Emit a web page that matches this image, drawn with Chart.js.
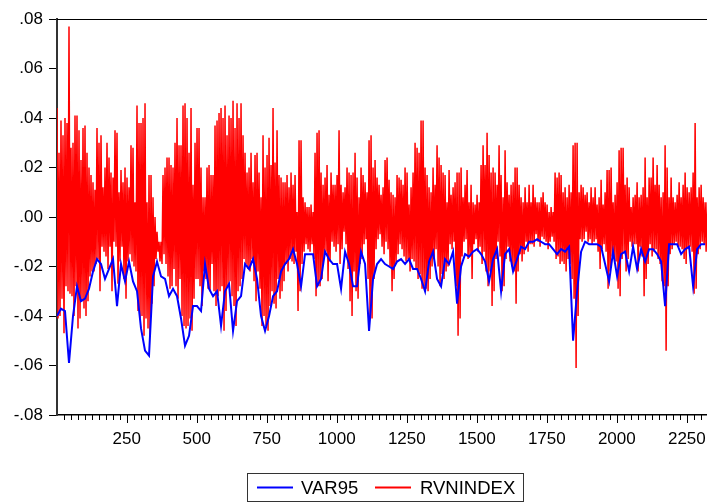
<!DOCTYPE html>
<html>
<head>
<meta charset="utf-8">
<script src="https://cdn.jsdelivr.net/npm/chart.js@4.4.1/dist/chart.umd.min.js"></script>
<style>
  html, body { margin: 0; padding: 0; background: #fff; }
</style>
</head>
<body>
<canvas id="chart" width="707" height="502"></canvas>
<script>
// series names, in legend order
const seriesNames = ['VAR95', 'RVNINDEX'];

// axis ticks
const xTickValues = [250, 500, 750, 1000, 1250, 1500, 1750, 2000, 2250];
const yTickValues = [-0.08, -0.06, -0.04, -0.02, 0, 0.02, 0.04, 0.06, 0.08];

// the picture was read every ~7 obs for RVNINDEX (local high + low) and ~14 obs for VAR95
const RED_STEP = 50 / 7;
const BLUE_STEP = 100 / 7;

// RVNINDEX local highs
const rvnPeaks = [
  .044, .026, .039, .033, .040, .038, .077, .028, .030, .041,
  .041, .035, .023, .036, .037, .026, .020, .017, .014, .011,
  .036, .030, .033, .012, .020, .030, .024, .018, .016, .035,
  .034, .010, .019, .014, .020, .016, .012, .029, .028, .006,
  .045, .038, .038, .040, .046, .006, .017, .017, .008, .000,
  -.006, -.010, -.010, .017, .020, .024, .024, .021, .020, .030,
  .040, .029, .029, .045, .046, .040,
  .026, .044, .013, .030, .036, .036, .020, .008, .008, .020,
  .021, .017, .017, .037, .039, .042, .044, .040, .045, .033,
  .041, .040, .047, .036, .046, .040, .046, .033, .026, .018,
  .020, .026, .014, .025, .026, .018, .008, .033, .020, .025,
  .032, .021, .044, .022, .035, .017, .016, .014, .014, .017,
  .012, .018, .013, .017, .002, .031, .031, .008, .006, .004,
  .004, .005, .002, .026, .034,
  .035, .018, .013, .016, .021, .009, .018, .013, .013, .017,
  .035, .013, .010, .012, .020, .018, .017, .018, .026, .016,
  .008, .020, .017, .014, .010, .031, .033, .020, .023, .016,
  .013, .009, .012, .023, .024, .015, .010, .009, .008, .017,
  .016, .015, .013, .020, .018, .005, .012, .018, .030, .028,
  .026, .039, .039, .020, .017, .012, .010, .020, .013, .029,
  .024, .021, .018, .017, .006,
  .019, .009, .012, .014, .018, .018, .020, .008, .013, .019,
  .006, .013, .006, .005, .009, .006, .021, .029, .021, .034,
  .025, .018, .020, .018, .013, .029, .017, .008, .027, .014,
  .009, .013, .014, .020, .020, .013, .008, .006, .012, .006,
  .013, .006, .013, .008, .006, .006, .008, .010, .006, .005,
  .002, .004, .002, .018, .016, .018, .017, .010, .012, .008,
  .013, .010, .029, .030, .030,
  .010, .013, .012, .009, .010, .006, .012, .008, .012, .005,
  .008, .015, .005, .010, .019, .019, .020, .006, .009, .014,
  .027, .028, .028, .013, .016, .012, .004, .008, .009, .014,
  .008, .009, .012, .024, .008, .016, .016, .024, .013, .021,
  .013, .008, .010, .029, .020, .008, .016, .008, .006, .009,
  .014, .008, .013, .018, .012, .010, .012, .018, .038, .008,
  .012, .013, .008, .006, .006
];

// RVNINDEX local lows
const rvnTroughs = [
  -.041, -.040, -.033, -.047, -.028, -.030, -.031, -.032, -.040, -.028,
  -.045, -.041, -.034, -.037, -.040, -.034, -.024, -.022, -.022, -.019,
  -.017, -.030, -.012, -.014, -.016, -.021, -.012, -.030, -.010, -.012,
  -.027, -.018, -.012, -.025, -.033, -.018, -.015, -.018, -.020, -.022,
  -.038, -.041, -.040, -.048, -.041, -.045, -.048, -.035, -.028, -.017,
  -.014, -.018, -.019, -.015, -.019, -.024, -.029, -.028, -.021, -.028,
  -.033, -.025, -.040, -.044, -.045, -.044,
  -.041, -.046, -.033, -.025, -.025, -.028, -.036, -.022, -.025, -.029,
  -.030, -.019, -.030, -.036, -.032, -.030, -.028, -.046, -.038, -.028,
  -.026, -.032, -.036, -.044, -.030, -.028, -.025, -.017, -.019, -.021,
  -.022, -.017, -.026, -.034, -.022, -.029, -.044, -.040, -.044, -.046,
  -.036, -.030, -.035, -.037, -.025, -.033, -.030, -.026, -.019, -.022,
  -.017, -.018, -.019, -.014, -.038, -.030, -.019, -.014, -.011, -.013,
  -.014, -.011, -.017, -.032, -.028,
  -.028, -.025, -.017, -.014, -.026, -.018, -.010, -.012, -.014, -.011,
  -.019, -.013, -.006, -.011, -.021, -.034, -.040, -.022, -.030, -.033,
  -.019, -.017, -.011, -.009, -.025, -.040, -.041, -.025, -.013, -.009,
  -.007, -.012, -.015, -.010, -.013, -.020, -.030, -.025, -.019, -.015,
  -.011, -.013, -.016, -.018, -.017, -.022, -.017, -.018, -.021, -.025,
  -.023, -.029, -.028, -.029, -.030, -.025, -.020, -.017, -.013, -.020,
  -.028, -.023, -.025, -.022, -.020,
  -.011, -.013, -.010, -.028, -.048, -.041, -.016, -.010, -.009, -.017,
  -.016, -.025, -.011, -.009, -.014, -.012, -.019, -.014, -.022, -.028,
  -.022, -.036, -.030, -.017, -.010, -.016, -.030, -.028, -.017, -.012,
  -.018, -.020, -.022, -.035, -.022, -.015, -.018, -.015, -.010, -.014,
  -.011, -.011, -.012, -.007, -.010, -.012, -.008, -.009, -.010, -.013,
  -.010, -.008, -.010, -.017, -.016, -.019, -.018, -.019, -.022, -.017,
  -.019, -.025, -.033, -.061, -.040,
  -.009, -.010, -.009, -.006, -.010, -.009, -.011, -.010, -.009, -.014,
  -.021, -.013, -.011, -.014, -.029, -.022, -.016, -.017, -.018, -.029,
  -.032, -.017, -.014, -.022, -.017, -.010, -.012, -.011, -.011, -.022,
  -.012, -.016, -.032, -.025, -.019, -.011, -.016, -.014, -.013, -.017,
  -.019, -.026, -.028, -.054, -.028, -.015, -.013, -.011, -.010, -.012,
  -.012, -.013, -.017, -.019, -.013, -.012, -.014, -.031, -.029, -.015,
  -.013, -.010, -.011, -.014, -.014
];

// VAR95 (blue)
const var95 = [
  -.040, -.037, -.038, -.059, -.040, -.028, -.034, -.033, -.029, -.022,
  -.017, -.019, -.025, -.021, -.017, -.036, -.019, -.026, -.018, -.026,
  -.030, -.045, -.054, -.056, -.024, -.018, -.024, -.025, -.032, -.029,
  -.032, -.041, -.052,
  -.048, -.036, -.036, -.038, -.019, -.029, -.032, -.030, -.044, -.030,
  -.027, -.046, -.034, -.032, -.019, -.021, -.017, -.025, -.040, -.046,
  -.040, -.032, -.030, -.022, -.019, -.017, -.013, -.019, -.028, -.015,
  -.015, -.015, -.028,
  -.025, -.014, -.017, -.019, -.019, -.029, -.014, -.019, -.028, -.028,
  -.014, -.019, -.046, -.025, -.019, -.017, -.019, -.020, -.021, -.018,
  -.017, -.019, -.017, -.021, -.021, -.025, -.030, -.018, -.014, -.025,
  -.028, -.017,
  -.019, -.014, -.035, -.020, -.015, -.016, -.014, -.013, -.015, -.018,
  -.026, -.017, -.013, -.030, -.015, -.013, -.022, -.017, -.012, -.013,
  -.010, -.010, -.009, -.010, -.011, -.011, -.013, -.015, -.013, -.014,
  -.012, -.050,
  -.030, -.014, -.010, -.011, -.011, -.011, -.012, -.019, -.026, -.014,
  -.024, -.015, -.014, -.022, -.012, -.021, -.013, -.018, -.013, -.013,
  -.015, -.018, -.036, -.011, -.011, -.011, -.015, -.013, -.012, -.028,
  -.013, -.011, -.011
];

const FONT = '"Liberation Sans", Arial, sans-serif';

// highs and lows alternate, half a reading step apart
const rvnPoints = [];
rvnPeaks.forEach((h, k) => {
  rvnPoints.push({ x: 1 + k * RED_STEP, y: h });
  rvnPoints.push({ x: 1 + (k + 0.5) * RED_STEP, y: rvnTroughs[k] });
});
const varPoints = var95.map((v, i) => ({ x: 1 + i * BLUE_STEP, y: v }));

// ".08", "-.02", ".00"
const fmtY = (v) => {
  if (Math.abs(v) < 1e-9) v = 0;
  return v.toFixed(2).replace(/^(-?)0\./, '$1.');
};

// top frame line, minor/major x ticks, boxed legend
const framePlugin = {
  id: 'frame',
  afterDraw(chart) {
    const { ctx, chartArea } = chart;
    const xs = chart.scales.x;
    ctx.save();
    ctx.strokeStyle = '#000';
    ctx.lineWidth = 1;
    ctx.beginPath();
    ctx.moveTo(chartArea.left, chartArea.top + 0.5);
    ctx.lineTo(chartArea.right, chartArea.top + 0.5);
    ctx.stroke();

    ctx.beginPath();
    for (let v = 25; v <= xs.max; v += 25) {
      const px = Math.round(xs.getPixelForValue(v)) + 0.5;
      const len = v % 250 === 0 ? 8 : 5;
      ctx.moveTo(px, chartArea.bottom);
      ctx.lineTo(px, chartArea.bottom + len);
    }
    ctx.stroke();

    // legend
    ctx.strokeStyle = '#333';
    ctx.strokeRect(247.5, 473.5, 276, 28);
    ctx.font = '18.5px ' + FONT;
    ctx.fillStyle = '#000';
    ctx.textBaseline = 'alphabetic';
    const slots = [{ line: 257, text: 301 }, { line: 375, text: 420 }];
    seriesNames.forEach((name, k) => {
      const ds = chart.data.datasets.find((d) => d.label === name);
      ctx.strokeStyle = ds.borderColor;
      ctx.lineWidth = 2;
      ctx.beginPath();
      ctx.moveTo(slots[k].line, 487.5);
      ctx.lineTo(slots[k].line + 36, 487.5);
      ctx.stroke();
      ctx.fillText(name, slots[k].text, 493.5);
    });
    ctx.restore();
  }
};

new Chart(document.getElementById('chart'), {
  type: 'line',
  data: {
    datasets: [
      {
        label: seriesNames[0],
        data: varPoints,
        borderColor: '#0000ff',
        borderWidth: 2,
        order: 0,
      },
      {
        label: seriesNames[1],
        data: rvnPoints,
        borderColor: '#ff0000',
        borderWidth: 1.5,
        order: 1,
      },
    ],
  },
  options: {
    responsive: false,
    animation: false,
    events: [],
    layout: { padding: { top: 19, right: 0, left: 0, bottom: 0 } },
    elements: { point: { radius: 0 }, line: { tension: 0 } },
    plugins: { legend: { display: false }, tooltip: { enabled: false } },
    scales: {
      x: {
        type: 'linear',
        min: 1,
        max: 2322,
        afterBuildTicks: (s) => { s.ticks = xTickValues.map((v) => ({ value: v })); },
        afterFit: (s) => { s.height = 87; s.paddingLeft = 0; s.paddingRight = 0; },
        ticks: {
          autoSkip: false,
          maxRotation: 0,
          padding: 6,
          color: '#000',
          font: { family: FONT, size: 17 },
          callback: (v) => String(v),
        },
        grid: { display: false },
        border: { display: true, color: '#000', width: 1.5 },
      },
      y: {
        min: -0.08,
        max: 0.08,
        afterBuildTicks: (s) => { s.ticks = yTickValues.map((v) => ({ value: v })); },
        afterFit: (s) => { s.width = 57; s.paddingTop = 0; s.paddingBottom = 0; },
        ticks: {
          callback: (v) => fmtY(v),
          padding: 6,
          color: '#000',
          font: { family: FONT, size: 17 },
        },
        grid: { drawOnChartArea: false, drawTicks: true, tickLength: 8, tickColor: '#000', tickWidth: 1 },
        border: { display: true, color: '#333', width: 2 },
      },
    },
  },
  plugins: [framePlugin],
});
</script>
</body>
</html>
